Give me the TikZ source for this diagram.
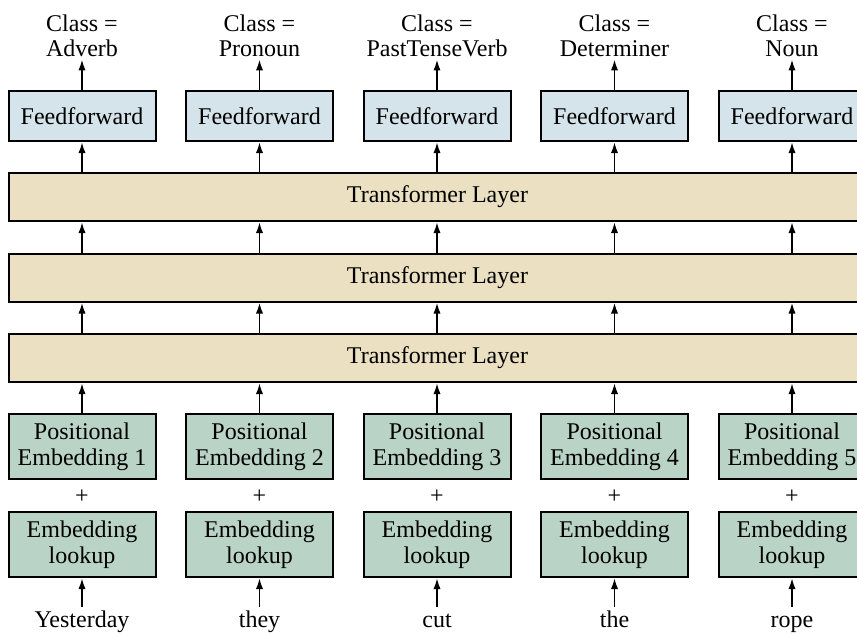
\documentclass[tikz,border=0pt]{standalone}
\usepackage{fontspec}
\setmainfont{Liberation Serif}
\usepackage{tikz}
\usetikzlibrary{arrows.meta}
\definecolor{ffblue}{RGB}{213, 228, 234}
\definecolor{layertan}{RGB}{235, 224, 194}
\definecolor{embgreen}{RGB}{186, 211, 199}

\tikzset{
  box/.style={draw, line width=1pt, minimum width=73.5pt, align=center, inner sep=0pt},
  ffbox/.style={box, fill=ffblue, minimum height=25pt},
  embbox/.style={box, fill=embgreen, minimum height=32.5pt},
  layerbox/.style={draw, line width=1pt, fill=layertan, minimum width=428.5pt, minimum height=24pt, inner sep=0pt},
  up/.style={-{Latex[length=5.5pt,width=3.6pt]}, line width=0.9pt}
}

\begin{document}
\begin{tikzpicture}[x=0.5pt, y=-0.5pt, font=\fontsize{12}{12.5}\selectfont]
  \clip (0,0) rectangle (857,634);
  \fill[white] (0,0) rectangle (857,634);
  % transformer stack
  \node[layerbox] (tl1) at (437.5,197) {Transformer Layer};
  \node[layerbox] (tl2) at (437.5,277.5) {Transformer Layer};
  \node[layerbox] (tl3) at (437.5,358) {Transformer Layer};
  % one column per word
  \foreach \i/\cls/\word in {1/Adverb/Yesterday, 2/Pronoun/they, 3/PastTenseVerb/cut, 4/Determiner/the, 5/Noun/rope}{
    \pgfmathsetmacro{\cx}{82+177.5*(\i-1)}
    \node[align=center, inner sep=1pt] (cls\i) at (\cx,36) {Class =\\\cls};
    \node[ffbox] (ff\i) at (\cx,116) {Feedforward};
    \node[embbox, font=\fontsize{12}{13}\selectfont] (pe\i) at (\cx,446.5) {Positional\\Embedding \i};
    \node (plus\i) at (\cx,497) {+};
    \node[embbox, font=\fontsize{12}{13}\selectfont] (el\i) at (\cx,544.5) {Embedding\\lookup};
    \node[inner sep=1pt] (w\i) at (\cx,622) {\strut\word};
    \draw[up] (w\i.north) -- (el\i.south);
    \draw[up] (pe\i.north) -- (tl3.south -| pe\i);
    \draw[up] (tl3.north -| pe\i) -- (tl2.south -| pe\i);
    \draw[up] (tl2.north -| pe\i) -- (tl1.south -| pe\i);
    \draw[up] (tl1.north -| ff\i) -- (ff\i.south);
    \draw[up] (ff\i.north) -- (cls\i.south);
  }
\end{tikzpicture}
\end{document}
